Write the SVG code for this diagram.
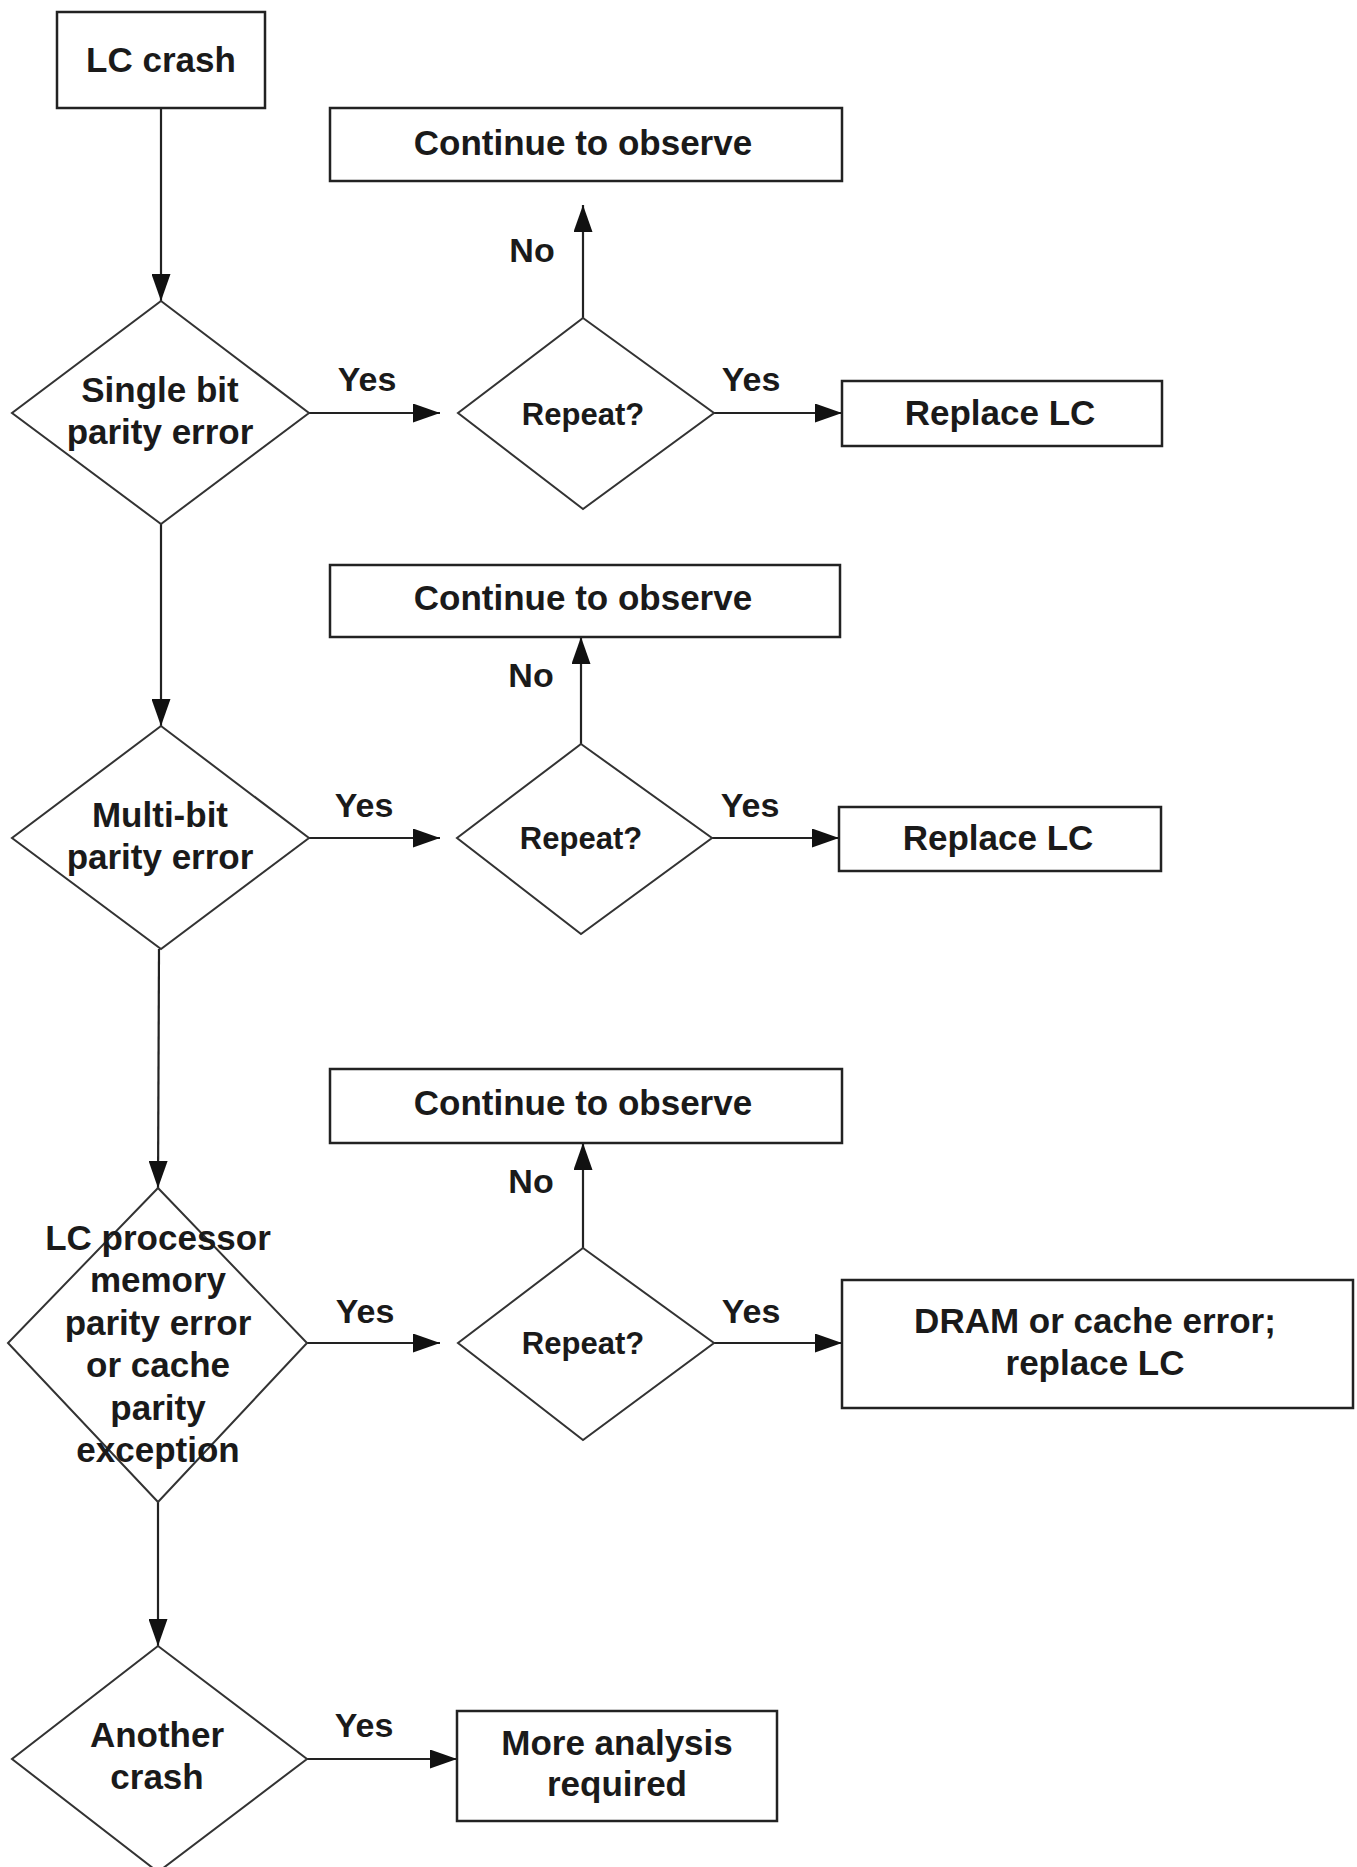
<svg xmlns="http://www.w3.org/2000/svg" width="1357" height="1867" viewBox="0 0 1357 1867">
<style>
.box{fill:#fff;stroke:#222;stroke-width:2.5}
.dia{fill:#fff;stroke:#333;stroke-width:2}
.ln{fill:none;stroke:#222;stroke-width:2.2}
text{font-family:"Liberation Sans",Arial,sans-serif;font-weight:bold;font-size:35px;fill:#1a1a1a;text-anchor:middle}
.sm{font-size:31px}
.lbl{font-size:34px}
</style>
<defs>
<marker id="ah" markerWidth="27" markerHeight="19" refX="27" refY="9.5" orient="auto" markerUnits="userSpaceOnUse">
<path d="M0,0 L27,9.5 L0,19 Z" fill="#111"/>
</marker>
</defs>
<rect width="1357" height="1867" fill="#fff"/>
<g id="connectors">
<line class="ln" x1="161" y1="108" x2="161" y2="301" marker-end="url(#ah)"/>
<line class="ln" x1="309" y1="413" x2="440" y2="413" marker-end="url(#ah)"/>
<line class="ln" x1="583" y1="318" x2="583" y2="205" marker-end="url(#ah)"/>
<line class="ln" x1="714" y1="413" x2="842" y2="413" marker-end="url(#ah)"/>
<line class="ln" x1="161" y1="524" x2="161" y2="726" marker-end="url(#ah)"/>
<line class="ln" x1="309" y1="838" x2="440" y2="838" marker-end="url(#ah)"/>
<line class="ln" x1="581" y1="744" x2="581" y2="637" marker-end="url(#ah)"/>
<line class="ln" x1="712" y1="838" x2="839" y2="838" marker-end="url(#ah)"/>
<line class="ln" x1="159" y1="949" x2="158" y2="1188" marker-end="url(#ah)"/>
<line class="ln" x1="307" y1="1343" x2="440" y2="1343" marker-end="url(#ah)"/>
<line class="ln" x1="583" y1="1248" x2="583" y2="1143" marker-end="url(#ah)"/>
<line class="ln" x1="714" y1="1343" x2="842" y2="1343" marker-end="url(#ah)"/>
<line class="ln" x1="158" y1="1502" x2="158" y2="1646" marker-end="url(#ah)"/>
<line class="ln" x1="307" y1="1759" x2="457" y2="1759" marker-end="url(#ah)"/>
<text class="lbl" x="367" y="391">Yes</text>
<text class="lbl" x="532" y="262">No</text>
<text class="lbl" x="751" y="391">Yes</text>
<text class="lbl" x="364" y="817">Yes</text>
<text class="lbl" x="531" y="687">No</text>
<text class="lbl" x="750" y="817">Yes</text>
<text class="lbl" x="365" y="1323">Yes</text>
<text class="lbl" x="531" y="1193">No</text>
<text class="lbl" x="751" y="1323">Yes</text>
<text class="lbl" x="364" y="1737">Yes</text>
</g>
<g id="lc-crash">
<rect class="box" x="57" y="12" width="208" height="96"/>
<text x="161" y="72">LC crash</text>
</g>
<g id="single-bit">
<polygon class="dia" points="161,301 309,413 161,524 12,413"/>
<text x="160" y="402">Single bit</text>
<text x="160" y="444">parity error</text>
</g>
<g id="repeat1">
<polygon class="dia" points="583,318 714,413 583,509 458,413"/>
<text class="sm" x="583" y="425">Repeat?</text>
</g>
<g id="observe1">
<rect class="box" x="330" y="108" width="512" height="73"/>
<text x="583" y="155">Continue to observe</text>
</g>
<g id="replace1">
<rect class="box" x="842" y="381" width="320" height="65"/>
<text x="1000" y="425">Replace LC</text>
</g>
<g id="multi-bit">
<polygon class="dia" points="161,726 309,838 161,949 12,838"/>
<text x="160" y="827">Multi-bit</text>
<text x="160" y="869">parity error</text>
</g>
<g id="repeat2">
<polygon class="dia" points="581,744 712,838 581,934 457,838"/>
<text class="sm" x="581" y="849">Repeat?</text>
</g>
<g id="observe2">
<rect class="box" x="330" y="565" width="510" height="72"/>
<text x="583" y="610">Continue to observe</text>
</g>
<g id="replace2">
<rect class="box" x="839" y="807" width="322" height="64"/>
<text x="998" y="850">Replace LC</text>
</g>
<g id="lc-processor">
<polygon class="dia" points="158,1188 307,1343 158,1502 8,1343"/>
<text x="158" y="1250">LC processor</text>
<text x="158" y="1292">memory</text>
<text x="158" y="1335">parity error</text>
<text x="158" y="1377">or cache</text>
<text x="158" y="1420">parity</text>
<text x="158" y="1462">exception</text>
</g>
<g id="repeat3">
<polygon class="dia" points="583,1248 714,1343 583,1440 458,1343"/>
<text class="sm" x="583" y="1354">Repeat?</text>
</g>
<g id="observe3">
<rect class="box" x="330" y="1069" width="512" height="74"/>
<text x="583" y="1115">Continue to observe</text>
</g>
<g id="dram">
<rect class="box" x="842" y="1280" width="511" height="128"/>
<text x="1095" y="1333">DRAM or cache error;</text>
<text x="1095" y="1375">replace LC</text>
</g>
<g id="another-crash">
<polygon class="dia" points="158,1646 307,1759 158,1872 12,1759"/>
<text x="157" y="1747">Another</text>
<text x="157" y="1789">crash</text>
</g>
<g id="more-analysis">
<rect class="box" x="457" y="1711" width="320" height="110"/>
<text x="617" y="1755">More analysis</text>
<text x="617" y="1796">required</text>
</g>
</svg>
